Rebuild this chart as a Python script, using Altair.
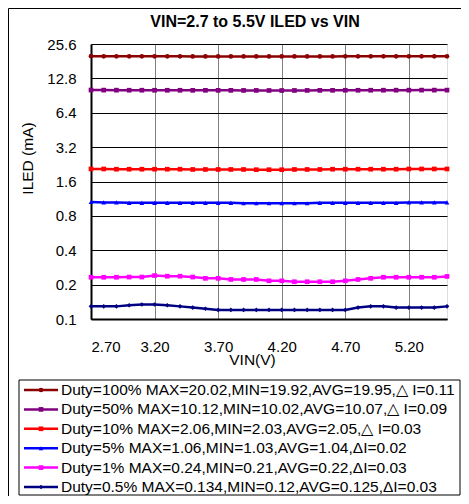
import altair as alt
import pandas as pd

FONT = "Liberation Sans"

VIN = [2.70, 2.80, 2.90, 3.00, 3.10, 3.20, 3.30, 3.40, 3.50, 3.60,
       3.70, 3.80, 3.90, 4.00, 4.10, 4.20, 4.30, 4.40, 4.50, 4.60,
       4.70, 4.80, 4.90, 5.00, 5.10, 5.20, 5.30, 5.40, 5.50]

DUTY_100 = [20.02, 19.98, 19.96, 19.95, 19.95, 19.95, 19.95, 19.95, 19.94, 19.94,
            19.94, 19.93, 19.93, 19.93, 19.92, 19.92, 19.93, 19.93, 19.94, 19.94,
            19.95, 19.95, 19.95, 19.96, 19.96, 19.96, 19.97, 19.97, 19.97]
DUTY_50 = [10.12, 10.10, 10.09, 10.08, 10.08, 10.07, 10.07, 10.07, 10.06, 10.06,
           10.05, 10.05, 10.04, 10.04, 10.03, 10.02, 10.03, 10.04, 10.05, 10.06,
           10.07, 10.07, 10.08, 10.08, 10.09, 10.09, 10.10, 10.10, 10.10]
DUTY_10 = [2.06, 2.06, 2.05, 2.05, 2.05, 2.05, 2.05, 2.05, 2.04, 2.04,
           2.04, 2.04, 2.04, 2.03, 2.03, 2.03, 2.04, 2.04, 2.04, 2.05,
           2.05, 2.05, 2.05, 2.05, 2.05, 2.06, 2.06, 2.06, 2.06]
DUTY_5 = [1.06, 1.05, 1.05, 1.04, 1.04, 1.04, 1.04, 1.04, 1.04, 1.04,
          1.04, 1.04, 1.03, 1.03, 1.03, 1.03, 1.03, 1.03, 1.04, 1.04,
          1.04, 1.04, 1.04, 1.04, 1.04, 1.05, 1.05, 1.05, 1.05]
DUTY_1 = [0.232, 0.232, 0.232, 0.233, 0.233, 0.240, 0.237, 0.237, 0.233, 0.227,
          0.227, 0.222, 0.222, 0.222, 0.216, 0.216, 0.212, 0.212, 0.212, 0.212,
          0.216, 0.222, 0.227, 0.232, 0.232, 0.232, 0.232, 0.232, 0.236]
DUTY_05 = [0.129, 0.129, 0.129, 0.132, 0.134, 0.134, 0.132, 0.129, 0.126, 0.123,
           0.120, 0.120, 0.120, 0.120, 0.120, 0.120, 0.120, 0.120, 0.120, 0.120,
           0.120, 0.126, 0.129, 0.129, 0.126, 0.126, 0.126, 0.126, 0.129]

SERIES = ["Duty=100%", "Duty=50%", "Duty=10%", "Duty=5%", "Duty=1%", "Duty=0.5%"]
LEGEND_LABELS = [
    "Duty=100% MAX=20.02,MIN=19.92,AVG=19.95,△ I=0.11",
    "Duty=50% MAX=10.12,MIN=10.02,AVG=10.07,△ I=0.09",
    "Duty=10% MAX=2.06,MIN=2.03,AVG=2.05,△ I=0.03",
    "Duty=5% MAX=1.06,MIN=1.03,AVG=1.04,ΔI=0.02",
    "Duty=1% MAX=0.24,MIN=0.21,AVG=0.22,ΔI=0.03",
    "Duty=0.5% MAX=0.134,MIN=0.12,AVG=0.125,ΔI=0.03",
]
COLORS = ["#8B0000", "#800080", "#FF0000", "#0000FF", "#FF00FF", "#000080"]
SHAPES = ["circle", "square", "square", "triangle-up", "square", "diamond"]
SIZES = [22, 22, 26, 40, 50, 40]

X_TICKS = [2.70, 3.20, 3.70, 4.20, 4.70, 5.20]
Y_TICKS = [0.1, 0.2, 0.4, 0.8, 1.6, 3.2, 6.4, 12.8, 25.6]

rows = []
for name, vals in zip(SERIES, [DUTY_100, DUTY_50, DUTY_10, DUTY_5, DUTY_1, DUTY_05]):
    for v, i in zip(VIN, vals):
        rows.append({"series": name, "vin": v, "iled": i})
df = pd.DataFrame(rows)
leg_df = pd.DataFrame({"label": LEGEND_LABELS, "series": SERIES})
box_df = pd.DataFrame({"box": ["legend"]})

color = alt.Color("series:N", scale=alt.Scale(domain=SERIES, range=COLORS), legend=None)
shape = alt.Shape("series:N", scale=alt.Scale(domain=SERIES, range=SHAPES), legend=None)
size = alt.Size("series:N", scale=alt.Scale(domain=SERIES, range=SIZES), legend=None)

x = alt.X(
    "vin:Q",
    scale=alt.Scale(domain=[2.7, 5.5], nice=False, zero=False),
    axis=alt.Axis(
        values=X_TICKS, format=".2f", title="VIN(V)", grid=True, gridColor="#808080",
        gridWidth=1, ticks=False, tickSize=0, labelPadding=32, labelBaseline="alphabetic",
        labelFontSize=15, labelColor="black", labelFont=FONT,
        titleX=161, titleY=45, titleBaseline="alphabetic", titleFontWeight="normal",
        titleFontSize=15.5, titleColor="black", titleFont=FONT,
        domainColor="black", domainWidth=2,
    ),
)
y = alt.Y(
    "iled:Q",
    scale=alt.Scale(type="log", base=2, domain=[0.1, 25.6], nice=False),
    axis=alt.Axis(
        values=Y_TICKS, format=".1f", title="ILED (mA)", grid=True, gridColor="black",
        gridWidth=1, ticks=False, tickSize=0, labelPadding=15, labelFontSize=15,
        labelColor="black", labelFont=FONT,
        titleX=-59, titleY=114, titleAngle=270, titleAlign="center",
        titleBaseline="alphabetic", titleFontWeight="normal", titleFontSize=15.5,
        titleColor="black", titleFont=FONT,
        domainColor="black", domainWidth=2,
    ),
)

lines = alt.Chart(df).mark_line(strokeWidth=2.5).encode(x=x, y=y, color=color, detail="series:N")
points = alt.Chart(df).mark_point(filled=True, opacity=1).encode(
    x=x, y=y, color=color, shape=shape, size=size
)
main = alt.layer(lines, points)

# legend rows (below the plot, inside the bottom padding)
yl = alt.Y("label:N", sort=LEGEND_LABELS, axis=None,
           scale=alt.Scale(type="point", range=[346, 443], padding=0))
leg_rule = alt.Chart(leg_df).mark_rule(strokeWidth=2.5).encode(
    x=alt.value(-67), x2=alt.value(-33), y=yl, color=color
)
leg_pts = alt.Chart(leg_df).mark_point(filled=True, opacity=1).encode(
    x=alt.value(-50), y=yl, color=color, shape=shape, size=size
)
leg_txt = alt.Chart(leg_df).mark_text(
    align="left", baseline="middle", fontSize=15.5, font=FONT, color="black"
).encode(x=alt.value(-30), y=yl, text="label:N")
leg_box = alt.Chart(box_df).mark_rect(fill=None, stroke="black", strokeWidth=1).encode(
    x=alt.value(-72), x2=alt.value(369), y=alt.value(336), y2=alt.value(451)
)
# outer chart frame (left and top edges)
frame_left = alt.Chart(box_df).mark_rule(color="black", strokeWidth=1).encode(
    x=alt.value(-82.5), y=alt.value(-35.5), y2=alt.value(460)
)
frame_top = alt.Chart(box_df).mark_rule(color="black", strokeWidth=1).encode(
    x=alt.value(-82.5), x2=alt.value(380), y=alt.value(-35.5)
)
legend_layer = alt.layer(leg_box, leg_rule, leg_pts, leg_txt, frame_left, frame_top)

chart = (
    alt.layer(main, legend_layer)
    .resolve_scale(y="independent")
    .properties(
        width=356,
        height=275,
        autosize=alt.AutoSizeParams(type="none"),
        padding={"left": 83, "top": 36, "right": 14, "bottom": 177},
        title=alt.TitleParams(
            "VIN=2.7 to 5.5V ILED vs VIN", font=FONT, fontSize=16, fontWeight="bold",
            color="black", anchor="middle", frame="group", baseline="alphabetic",
            offset=-35, dx=-14,
        ),
    )
    .configure_view(stroke="black", strokeWidth=1)
    .configure(font=FONT)
)

chart.save("out.html", embed_options={"renderer": "svg", "actions": False})
